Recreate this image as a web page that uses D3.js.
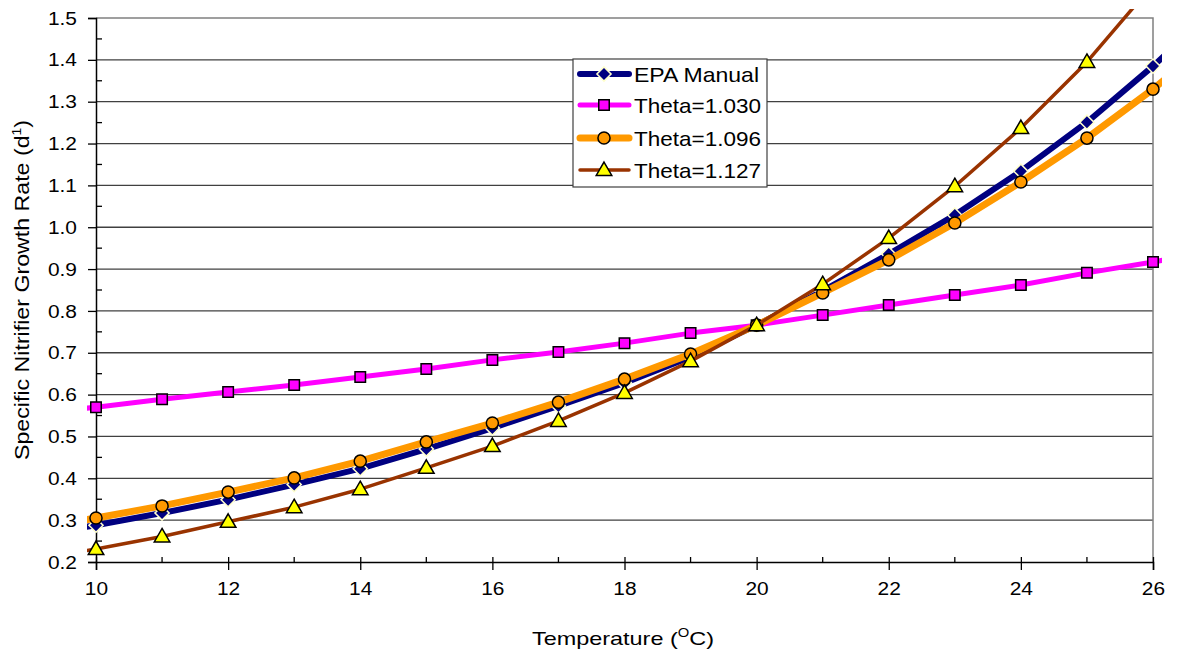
<!DOCTYPE html>
<html>
<head>
<meta charset="utf-8">
<script src="https://cdn.jsdelivr.net/npm/d3@7"></script>
<style>
  body { margin: 0; background: #fff; }
  text { font-family: "Liberation Sans", Arial, sans-serif; fill: #000; }
</style>
</head>
<body>
<svg id="chart"></svg>
<script>
// Chart size
const width = 1177;
const height = 653;

// Temperatures (deg C); 9 and 27 only feed the line ends that run past the axes
const temps = [9, 10, 11, 12, 13, 14, 15, 16, 17, 18, 19, 20, 21, 22, 23, 24, 25, 26, 27];

// Series values
const epaManual = [0.262, 0.288, 0.317, 0.349, 0.385, 0.423, 0.470, 0.520, 0.573, 0.628, 0.690, 0.766, 0.848, 0.936, 1.029, 1.134, 1.251, 1.385, 1.53];
const theta1030 = [0.553, 0.570, 0.589, 0.606, 0.623, 0.642, 0.661, 0.683, 0.702, 0.723, 0.747, 0.766, 0.790, 0.814, 0.838, 0.862, 0.891, 0.917, 0.945];
const theta1096 = [0.278, 0.305, 0.334, 0.367, 0.401, 0.441, 0.487, 0.532, 0.582, 0.637, 0.697, 0.766, 0.843, 0.922, 1.010, 1.108, 1.213, 1.330, 1.458];
const theta1127 = [0.205, 0.231, 0.261, 0.296, 0.331, 0.374, 0.425, 0.477, 0.537, 0.604, 0.680, 0.766, 0.864, 0.974, 1.098, 1.237, 1.395, 1.58, 1.78];

// Axis ticks
const xTicks = [10, 12, 14, 16, 18, 20, 22, 24, 26];
const yTicks = [0.2, 0.3, 0.4, 0.5, 0.6, 0.7, 0.8, 0.9, 1.0, 1.1, 1.2, 1.3, 1.4, 1.5];

const seriesNames = ["EPA Manual", "Theta=1.030", "Theta=1.096", "Theta=1.127"];

const series = [
  { name: seriesNames[0], values: epaManual, color: "#000080", lw: 6, marker: "diamond", fill: "#000080", stroke: "#ffffcc" },
  { name: seriesNames[1], values: theta1030, color: "#ff00ff", lw: 5, marker: "square", fill: "#ff00ff", stroke: "#000" },
  { name: seriesNames[2], values: theta1096, color: "#ff9900", lw: 7, marker: "circle", fill: "#ff9900", stroke: "#000" },
  { name: seriesNames[3], values: theta1127, color: "#993300", lw: 3.5, marker: "triangle", fill: "#ffff00", stroke: "#000" }
];

// Plot area
const plotLeft = 96, plotRight = 1153, plotTop = 18, plotBottom = 562;

const svg = d3.select("#chart")
  .attr("width", width)
  .attr("height", height);

const x = d3.scaleLinear().domain([10, 26]).range([plotLeft, plotRight]);
const y = d3.scaleLinear().domain([0.2, 1.5]).range([plotBottom, plotTop]);

// Gridlines
svg.append("g")
  .selectAll("line")
  .data(yTicks.slice(1, -1))
  .enter().append("line")
  .attr("x1", plotLeft).attr("x2", plotRight)
  .attr("y1", d => y(d)).attr("y2", d => y(d))
  .attr("stroke", "#404040")
  .attr("stroke-width", 1.3);

// Plot border (top and right in gray)
svg.append("path")
  .attr("d", `M${plotLeft},${plotTop}H${plotRight}V${plotBottom}`)
  .attr("fill", "none")
  .attr("stroke", "#808080")
  .attr("stroke-width", 1.5);

// Y axis
const yAxis = svg.append("g").attr("transform", `translate(${plotLeft},0)`);
yAxis.call(d3.axisLeft(y).tickValues(yTicks).tickSize(8).tickFormat(d3.format(".1f")));
yAxis.attr("font-family", null);
yAxis.select(".domain").attr("stroke-width", 1.5);
yAxis.selectAll(".tick line").attr("stroke-width", 1.3);
yAxis.selectAll(".tick text")
  .attr("font-size", 19)
  .attr("transform", "scale(1.1,1)")
  .attr("x", -19 / 1.1);
// minor ticks pointing inward
yAxis.append("g").selectAll("line")
  .data(d3.range(0.25, 1.5, 0.1))
  .enter().append("line")
  .attr("x1", 0).attr("x2", 6)
  .attr("y1", d => y(d)).attr("y2", d => y(d))
  .attr("stroke", "#000").attr("stroke-width", 1.3);

// X axis
const xAxis = svg.append("g").attr("transform", `translate(0,${plotBottom})`);
xAxis.call(d3.axisBottom(x).tickValues(xTicks).tickSize(8).tickPadding(12));
xAxis.attr("font-family", null);
xAxis.select(".domain").attr("stroke-width", 1.5);
xAxis.selectAll(".tick line").attr("y1", -5).attr("stroke-width", 1.3);
xAxis.selectAll(".tick text")
  .attr("font-size", 19)
  .attr("transform", "scale(1.1,1)");
// minor ticks on odd temperatures
xAxis.append("g").selectAll("line")
  .data(d3.range(11, 26, 2))
  .enter().append("line")
  .attr("x1", d => x(d)).attr("x2", d => x(d))
  .attr("y1", 0).attr("y2", -5)
  .attr("stroke", "#000").attr("stroke-width", 1.3);

// Clip for lines (Excel lets them run slightly past the plot)
svg.append("clipPath").attr("id", "clip")
  .append("rect")
  .attr("x", 87).attr("y", 9)
  .attr("width", 1162 - 87).attr("height", 570 - 9);

const line = d3.line()
  .x((d, i) => x(temps[i]))
  .y(d => y(d));

// Marker shapes; the diamond is a square turned 45 degrees
const symbols = {
  diamond: d3.symbol().type(d3.symbolSquare).size(100),
  square: d3.symbol().type(d3.symbolSquare).size(110),
  circle: d3.symbol().type(d3.symbolCircle).size(115),
  triangle: d3.symbol().type(d3.symbolTriangle).size(105)
};
function markerTransform(s, px, py) {
  if (s.marker === "diamond") return `translate(${px},${py}) rotate(45)`;
  if (s.marker === "triangle") return `translate(${px},${py + 1})`;
  return `translate(${px},${py})`;
}

const plot = svg.append("g").attr("clip-path", "url(#clip)");

series.forEach(s => {
  const g = plot.append("g");
  g.append("path")
    .datum(s.values)
    .attr("d", line)
    .attr("fill", "none")
    .attr("stroke", s.color)
    .attr("stroke-width", s.lw)
    .attr("stroke-linejoin", "round");

  const pts = s.values
    .map((v, i) => ({ t: temps[i], v: v }))
    .filter(d => d.t >= 10 && d.t <= 26);

  g.selectAll(".pt")
    .data(pts)
    .enter().append("path")
    .attr("class", "pt")
    .attr("transform", d => markerTransform(s, x(d.t), y(d.v)))
    .attr("d", symbols[s.marker]())
    .attr("fill", s.fill)
    .attr("stroke", s.stroke)
    .attr("stroke-width", 1.5);
});

// Legend
const legend = svg.append("g");
legend.append("rect")
  .attr("x", 573).attr("y", 59)
  .attr("width", 194).attr("height", 128)
  .attr("fill", "#fff")
  .attr("stroke", "#404040")
  .attr("stroke-width", 1.2);

const rowY = [74, 105, 138, 170];
const labelLen = [125, 127, 127, 127];
series.forEach((s, i) => {
  const ry = rowY[i];
  legend.append("line")
    .attr("x1", 580).attr("x2", 629)
    .attr("y1", ry).attr("y2", ry)
    .attr("stroke", s.color)
    .attr("stroke-width", s.lw)
    .attr("stroke-linecap", "round");
  legend.append("path")
    .attr("transform", markerTransform(s, 604, ry))
    .attr("d", symbols[s.marker]())
    .attr("fill", s.fill)
    .attr("stroke", s.stroke)
    .attr("stroke-width", 1.5);
  legend.append("text")
    .attr("x", 634).attr("y", ry + 8)
    .attr("font-size", 21)
    .attr("textLength", labelLen[i])
    .attr("lengthAdjust", "spacingAndGlyphs")
    .text(s.name);
});

// Axis titles
const xTitle = svg.append("text")
  .attr("x", 532).attr("y", 645)
  .attr("font-size", 19)
  .attr("textLength", 182)
  .attr("lengthAdjust", "spacingAndGlyphs");
xTitle.append("tspan").text("Temperature (");
xTitle.append("tspan").attr("font-size", 12).attr("dy", -8).text("O");
xTitle.append("tspan").attr("dy", 8).text("C)");

const yTitle = svg.append("text")
  .attr("transform", "translate(29,460) rotate(-90)")
  .attr("font-size", 20)
  .attr("textLength", 340)
  .attr("lengthAdjust", "spacingAndGlyphs");
yTitle.append("tspan").text("Specific Nitrifier Growth Rate (d");
yTitle.append("tspan").attr("font-size", 12).attr("dy", -8).text("1");
yTitle.append("tspan").attr("dy", 8).text(")");
</script>
</body>
</html>
